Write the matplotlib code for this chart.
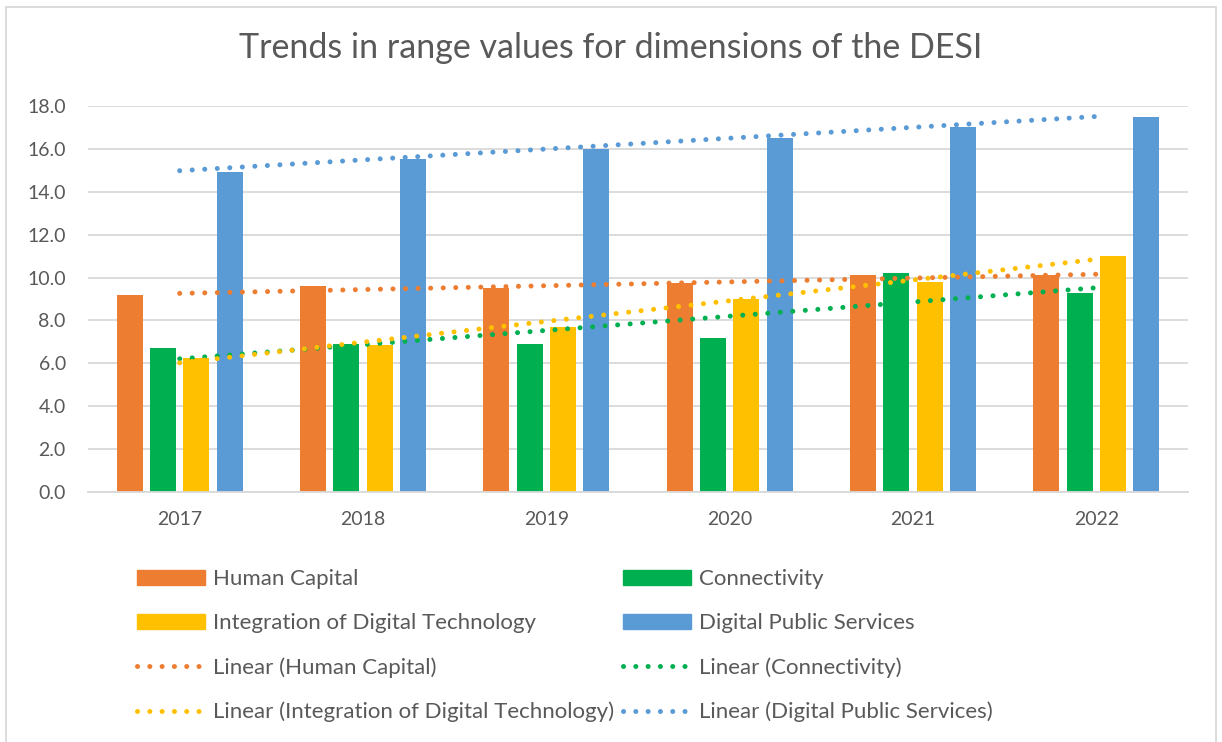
import matplotlib
matplotlib.use("Agg")
import matplotlib.pyplot as plt
import numpy as np
from matplotlib.patches import Rectangle
from matplotlib.lines import Line2D

years = ["2017", "2018", "2019", "2020", "2021", "2022"]
human_capital = [9.2, 9.6, 9.5, 9.75, 10.1, 10.1]
connectivity = [6.7, 6.9, 6.9, 7.2, 10.2, 9.3]
integration_dt = [6.27, 6.85, 7.7, 9.0, 9.8, 11.0]
digital_ps = [14.93, 15.55, 16.0, 16.5, 17.0, 17.5]

names = ["Human Capital", "Connectivity", "Integration of Digital Technology", "Digital Public Services"]
colors = ["#ED7D31", "#00B050", "#FFC000", "#5B9BD5"]
series = [human_capital, connectivity, integration_dt, digital_ps]

plt.rcParams['font.family'] = ['Lato', 'DejaVu Sans']
TXT = "#595959"

fig = plt.figure(figsize=(12.22, 7.42), dpi=100)
W, H = 1222, 742
ax = fig.add_axes([88 / W, 1 - 492 / H, 1100 / W, 386 / H])

x = np.arange(len(years))
step = 0.182
bw = 0.142
for i, (vals, c) in enumerate(zip(series, colors)):
    ax.bar(x + (i - 1.5) * step, vals, width=bw, color=c, zorder=2)

dot_style = (0, (0.01, 2.5))
for vals, c in zip(series, colors):
    m, b = np.polyfit(x, vals, 1)
    ax.plot(x, m * x + b, color=c, lw=3.6, linestyle=dot_style,
            dash_capstyle='round', zorder=3)

ax.set_xlim(-0.5, len(years) - 0.5)
ax.set_ylim(0, 18)
ax.set_yticks(np.arange(0, 18.1, 2))
ax.set_yticklabels([f"{v:.1f}" for v in np.arange(0, 18.1, 2)])
ax.set_xticks(x)
ax.set_xticklabels(years)
ax.tick_params(axis='both', length=0, labelsize=14, labelcolor=TXT)
ax.tick_params(axis='y', pad=16)
ax.tick_params(axis='x', pad=14)
ax.grid(axis='y', color='#D9D9D9', lw=1.3, zorder=0)
for s in ['top', 'right', 'left']:
    ax.spines[s].set_visible(False)
ax.spines['bottom'].set_color('#D9D9D9')
ax.spines['bottom'].set_linewidth(1.3)

fig.text(611 / W, 1 - 48 / H, "Trends in range values for dimensions of the DESI",
         ha='center', va='center', fontsize=24.5, color=TXT)

# legend
bar_h = [Rectangle((0, 0), 1, 1, color=c) for c in colors]
line_h = [Line2D([0], [0], color=c, lw=3.6, linestyle=(0, (0.01, 2.45)),
                 dash_capstyle='round') for c in colors]
labels_all = names + [f"Linear ({n})" for n in names]
handles_all = bar_h + line_h
order = [0, 2, 4, 6, 1, 3, 5, 7]
leg = fig.legend([handles_all[k] for k in order], [labels_all[k] for k in order],
                 ncol=2, loc='upper left', bbox_to_anchor=(117 / W, 1 - 549 / H),
                 frameon=False, fontsize=16, handlelength=3.06, handleheight=0.65,
                 handletextpad=0.36, labelspacing=1.08, columnspacing=0.42)
for t in leg.get_texts():
    t.set_color(TXT)

fig.patches.append(Rectangle((6 / W, -0.01), 1210 / W, 1 - 7 / H + 0.01,
                             transform=fig.transFigure, fill=False,
                             edgecolor='#D9D9D9', lw=1.3))

fig.savefig("out.png", dpi=100)
